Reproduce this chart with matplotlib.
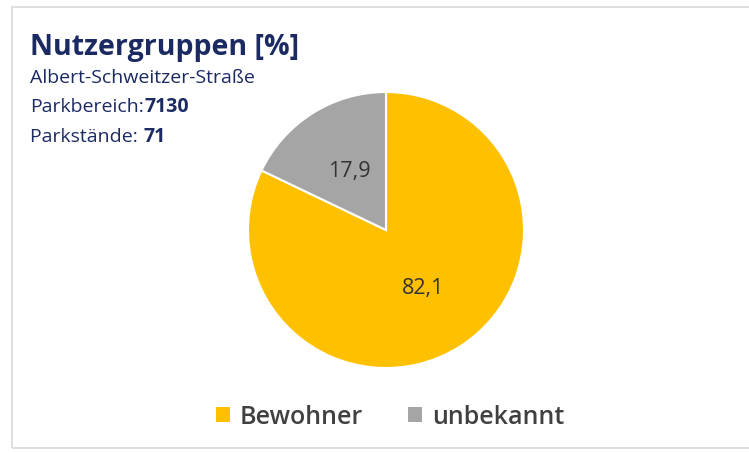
import matplotlib
matplotlib.use("Agg")
import matplotlib.pyplot as plt
from matplotlib.patches import Rectangle

plt.rcParams['font.family'] = ['Open Sans', 'DejaVu Sans']

# Nutzergruppen Albert-Schweitzer-Straße
labels = ['Bewohner', 'unbekannt']
values = [82.1, 17.9]
colors = ['#FFC000', '#A5A5A5']
street = 'Albert-Schweitzer-Straße'
parkbereich = '7130'
parkstaende = '71'

W, H = 749, 453
fig = plt.figure(figsize=(W / 100, H / 100), dpi=100)
fig.patch.set_facecolor('white')

# chart frame
fig.patches.append(Rectangle((12 / W, 5 / H), (W - 10) / W, (H - 12) / H,
                             transform=fig.transFigure, fill=False,
                             edgecolor='#d9d9d9', linewidth=1.2))

navy = '#1b2a63'
fs = 14
fig.text(30 / W, 1 - 55 / H, 'Nutzergruppen [%]', fontsize=20.5, fontweight='bold', color=navy)
fig.text(30 / W, 1 - 83 / H, street, fontsize=fs, color=navy)

renderer = fig.canvas.get_renderer()


def label_value(y, label, value):
    # normal label followed by the value in bold
    t = fig.text(30 / W, 1 - y / H, label, fontsize=fs, color=navy)
    x1 = t.get_window_extent(renderer).x1
    fig.text((x1 + 1) / W, 1 - y / H, value, fontsize=fs, fontweight='bold', color=navy)


label_value(112, 'Parkbereich:', parkbereich)
label_value(142, 'Parkstände: ', parkstaende)

# pie, centre at (386, 230) px, radius 138 px
cx, cy, r = 386, 230, 138
ax = fig.add_axes([(cx - r) / W, (H - cy - r) / H, 2 * r / W, 2 * r / H])
wedges, texts, autotexts = ax.pie(
    values, colors=colors, startangle=90, counterclock=False,
    autopct=lambda p: f'{p:.1f}'.replace('.', ','), pctdistance=0.5,
    wedgeprops=dict(edgecolor='white', linewidth=1.5),
    textprops=dict(fontsize=15.5, color='#333333'))
ax.set_xlim(-1, 1)
ax.set_ylim(-1, 1)
ax.set_aspect('equal')
ax.axis('off')

leg = fig.legend(wedges, labels, loc='center', bbox_to_anchor=(390 / W, 1 - 417 / H),
                 ncol=2, frameon=False, handlelength=0.55, handleheight=0.55,
                 handletextpad=0.4, columnspacing=1.8,
                 prop=dict(size=18, weight='semibold'))
for t in leg.get_texts():
    t.set_color('#404040')
for p in leg.get_patches():
    p.set_edgecolor('none')

fig.savefig('out.png', dpi=100)
